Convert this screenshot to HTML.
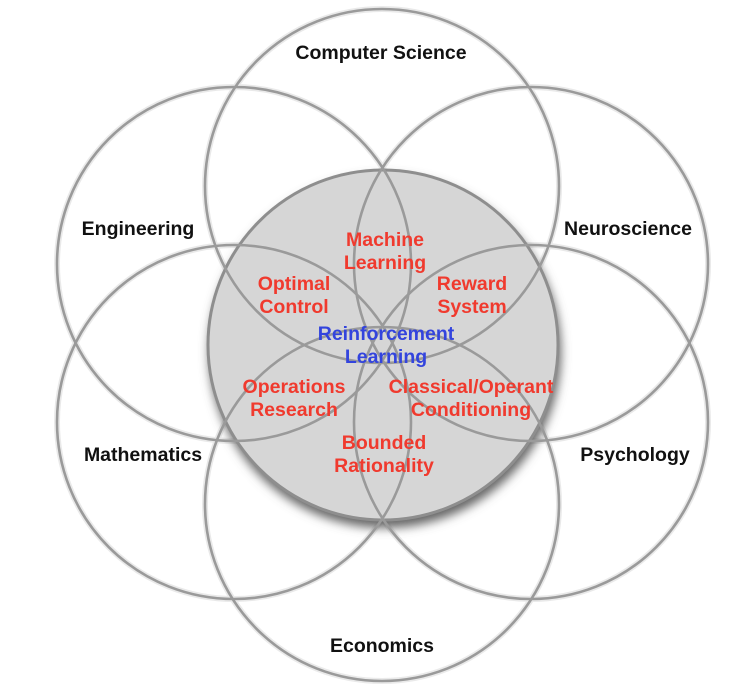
<!DOCTYPE html>
<html><head><style>body{margin:0;background:#fff}svg{display:block}</style></head>
<body>
<svg width="747" height="685" viewBox="0 0 747 685" xmlns="http://www.w3.org/2000/svg">
<defs>
<filter id="sh" x="-20%" y="-20%" width="140%" height="140%"><feGaussianBlur stdDeviation="5"/></filter>
</defs>
<g fill="none" stroke="#dcdcdc" stroke-width="6" opacity="0.6">
<circle cx="382" cy="186" r="177"/><circle cx="382" cy="504" r="177"/>
<circle cx="234" cy="264" r="177"/><circle cx="531" cy="264" r="177"/>
<circle cx="234" cy="422" r="177"/><circle cx="531" cy="422" r="177"/>
</g>
<circle cx="385" cy="352" r="176" fill="#666" filter="url(#sh)"/>
<circle cx="383" cy="345" r="175" fill="#d6d6d6" stroke="#8e8e8e" stroke-width="3"/>
<g fill="none" stroke="#9a9a9a" stroke-width="2.6">
<circle cx="382" cy="186" r="177"/><circle cx="382" cy="504" r="177"/>
<circle cx="234" cy="264" r="177"/><circle cx="531" cy="264" r="177"/>
<circle cx="234" cy="422" r="177"/><circle cx="531" cy="422" r="177"/>
</g>
<g font-family="Liberation Sans, sans-serif" font-weight="bold" text-anchor="middle" font-size="19.5">
<g fill="#111">
<text x="381" y="59">Computer Science</text>
<text x="138" y="235">Engineering</text>
<text x="628" y="235">Neuroscience</text>
<text x="143" y="461">Mathematics</text>
<text x="635" y="461">Psychology</text>
<text x="382" y="652">Economics</text>
</g>
<g fill="#f03a2e">
<text x="385" y="246">Machine</text><text x="385" y="269">Learning</text>
<text x="294" y="290">Optimal</text><text x="294" y="313">Control</text>
<text x="472" y="290">Reward</text><text x="472" y="313">System</text>
<text x="294" y="393">Operations</text><text x="294" y="416">Research</text>
<text x="471" y="393">Classical/Operant</text><text x="471" y="416">Conditioning</text>
<text x="384" y="449">Bounded</text><text x="384" y="472">Rationality</text>
</g>
<g fill="#3344dd">
<text x="386" y="340">Reinforcement</text><text x="386" y="363">Learning</text>
</g>
</g>
</svg>
</body></html>
